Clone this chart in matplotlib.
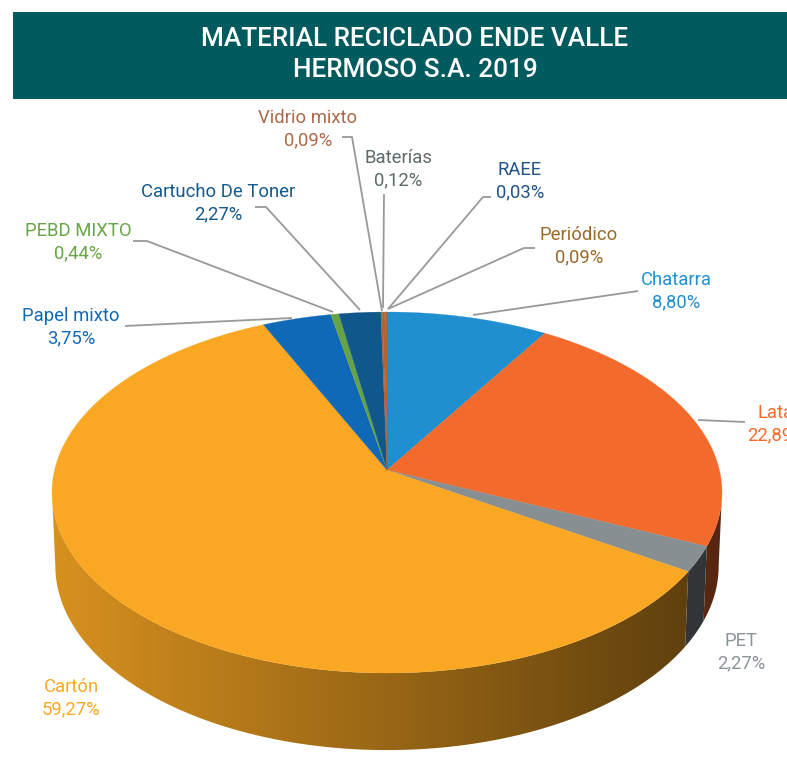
import numpy as np
import matplotlib
matplotlib.use('Agg')
import matplotlib.pyplot as plt
from matplotlib.patches import Polygon

plt.rcParams['font.family'] = ['Roboto', 'DejaVu Sans']

# Datos
labels = ['Chatarra', 'Lata', 'PET', 'Cartón', 'Papel mixto', 'PEBD MIXTO',
          'Cartucho De Toner', 'Vidrio mixto', 'Baterías', 'RAEE', 'Periódico']
values = [8.80, 22.89, 2.27, 59.27, 3.75, 0.44, 2.27, 0.09, 0.12, 0.03, 0.09]
value_text = ['8,80%', '22,89%', '2,27%', '59,27%', '3,75%', '0,44%',
              '2,27%', '0,09%', '0,12%', '0,03%', '0,09%']
face_colors = ['#1f8fcf', '#f26b2d', '#878f92', '#faa823', '#1069b6', '#66a347',
               '#10588c', '#a9623a', '#a9623a', '#a9623a', '#a9623a']
text_colors = ['#2090d0', '#f26b2d', '#8a9599', '#faa823', '#1369b5', '#68a547',
               '#145a8c', '#b0684a', '#5f6a6a', '#20558c', '#9a6a2a']

# Posizione etichette (centro x, y prima riga)
label_pos = [(676, 280), (776, 413), (741, 641), (71, 687), (71, 316), (78, 231),
             (218, 192), (308, 118), (398, 158), (520, 170), (579, 235)]
# Linee guida
leaders = [
    [(473, 315), (638, 291)],
    [(698, 420), (745, 422)],
    None,
    None,
    [(125, 326), (292, 318)],
    [(133, 241), (147, 241), (333, 312)],
    [(255, 207), (266, 207), (360, 310)],
    [(342, 137), (352, 137), (382, 311)],
    [(384, 194), (383, 308)],
    [(491, 197), (483, 197), (388, 309)],
    [(535, 248), (524, 248), (388, 309)],
]

# Proiezione prospettica del disco
cx, cy = 387, 470
R, H, k = 332.4, 177.7, 0.1247
wall_dy, wall_sx, wall_sy = 73, 0.99, 1.02


def top_point(theta):
    X, Y = np.sin(theta), np.cos(theta)
    d = 1 + k * Y
    return cx + R * X / d, cy - H * Y / d


def bottom_point(theta):
    x, y = top_point(theta)
    return cx + (x - cx) * wall_sx, cy + wall_dy + (y - cy) * wall_sy


def shade_strip(color):
    # gradiente orizzontale: scurisce da sinistra a destra
    xs = np.arange(40, 740)
    f = np.clip(0.86 - (xs - 55) / (690 - 55) * 0.48, 0.3, 1)
    rgb = np.array(matplotlib.colors.to_rgb(color))
    return (f[:, None] * rgb)[None, :, :]


fig = plt.figure(figsize=(7.87, 7.61), dpi=100)
ax = fig.add_axes([0, 0, 1, 1])
ax.axis('off')

# Banner titolo
ax.add_patch(plt.Rectangle((13, 12), 774, 87, color='#015a5e', lw=0))
ax.text(415, 39, 'MATERIAL RECICLADO ENDE VALLE', color='white', fontsize=18.8,
        fontweight='medium', ha='center', va='center')
ax.text(415, 70, 'HERMOSO S.A. 2019', color='white', fontsize=18.8,
        fontweight='medium', ha='center', va='center')

edges = np.cumsum([0] + values) / sum(values) * 2 * np.pi

# Pareti laterali: solo la parte frontale (tra i due punti di massima larghezza)
front_a = np.arccos(-k)
front_b = 2 * np.pi - front_a
for i in range(len(values)):
    a, b = max(edges[i], front_a), min(edges[i + 1], front_b)
    if a >= b:
        continue
    ts = np.linspace(a, b, 300)
    x1, y1 = top_point(ts)
    x2, y2 = bottom_point(ts)
    band = Polygon(np.c_[np.r_[x1, x2[::-1]], np.r_[y1, y2[::-1]]], fc='none', ec='none')
    ax.add_patch(band)
    im = ax.imshow(shade_strip(face_colors[i]), extent=(40, 740, 770, 300), aspect='auto',
                   interpolation='bilinear')
    im.set_clip_path(band)

ax.set_xlim(0, 787)
ax.set_ylim(761, 0)

# Faccia superiore
for i in range(len(values)):
    ts = np.linspace(edges[i], edges[i + 1], 200)
    xs, ys = top_point(ts)
    ax.fill(np.r_[cx, xs], np.r_[cy, ys], color=face_colors[i], lw=0.2)

# Linee guida ed etichette
for i in range(len(values)):
    if leaders[i] is not None:
        xs, ys = zip(*leaders[i])
        ax.plot(xs, ys, color='#999999', lw=1.3, solid_capstyle='butt')
    x, y = label_pos[i]
    ax.text(x, y, labels[i], color=text_colors[i], fontsize=13.3, ha='center', va='center')
    ax.text(x, y + 22, value_text[i], color=text_colors[i], fontsize=13.3, ha='center', va='center')

fig.savefig('out.png', dpi=100)
